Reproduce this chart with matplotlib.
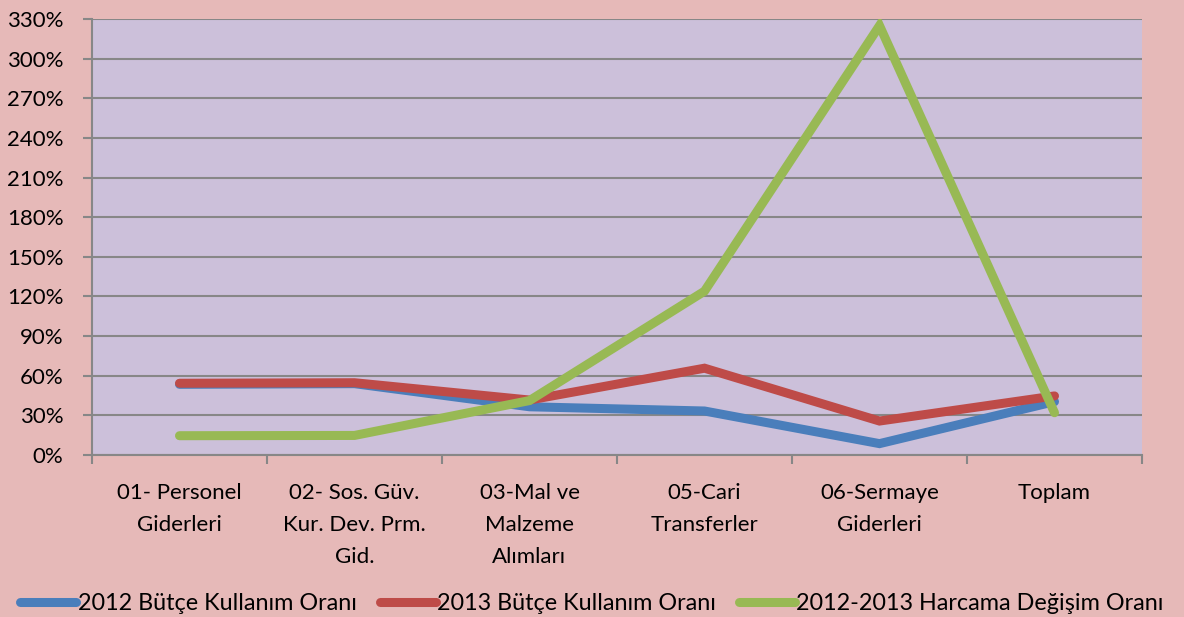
import matplotlib.pyplot as plt
import numpy as np

plt.rcParams['font.family'] = ['Lato', 'DejaVu Sans']

categories = ['01- Personel\nGiderleri', '02- Sos. Güv.\nKur. Dev. Prm.\nGid.',
              '03-Mal ve\nMalzeme\nAlımları', '05-Cari\nTransferler',
              '06-Sermaye\nGiderleri', 'Toplam']
oran_2012 = [53.5, 54.0, 36.5, 33.3, 8.6, 40.4]   # 2012 Bütçe Kullanım Oranı (%)
oran_2013 = [54.3, 54.7, 41.6, 65.7, 25.7, 44.7]  # 2013 Bütçe Kullanım Oranı (%)
degisim = [14.6, 14.8, 41.2, 124.0, 325.0, 32.0]  # 2012-2013 Harcama Değişim Oranı (%)
yticks = list(range(0, 331, 30))

bg = '#E6B9B8'
plot_bg = '#CCC0DA'
grey = '#878787'

fig = plt.figure(figsize=(11.84, 6.17), dpi=100, facecolor=bg)
ax = fig.add_axes([92/1184, 1-455/617, 1050/1184, 436/617])
ax.set_facecolor(plot_bg)

x = np.arange(len(categories)) + 0.5
ax.plot(x, oran_2012, color='#4A7EBB', lw=6.5, solid_capstyle='round', solid_joinstyle='miter',
        label='2012 Bütçe Kullanım Oranı', zorder=3)
ax.plot(x, oran_2013, color='#BE4B48', lw=6.5, solid_capstyle='round', solid_joinstyle='miter',
        label='2013 Bütçe Kullanım Oranı', zorder=4)
ax.plot(x, degisim, color='#98B954', lw=6.5, solid_capstyle='round', solid_joinstyle='miter',
        label='2012-2013 Harcama Değişim Oranı', zorder=5)

ax.set_xlim(0, len(categories))
ax.set_ylim(0, 330)
ax.set_yticks(yticks)
ax.set_yticklabels([f'{v}%' for v in yticks], fontsize=16)
ax.yaxis.grid(True, color=grey, lw=1.5)
ax.set_axisbelow(True)

ax.set_xticks(x)
ax.set_xticklabels(categories, fontsize=16, linespacing=1.75, va='top')
ax.set_xticks(np.arange(len(categories) + 1), minor=True)
ax.tick_params(axis='x', which='major', length=0, pad=20)
ax.tick_params(axis='x', which='minor', length=6.5, width=1.5, color=grey)
ax.tick_params(axis='y', length=6.5, width=1.5, color=grey, pad=14)

for s in ['top', 'right']:
    ax.spines[s].set_visible(False)
for s in ['left', 'bottom']:
    ax.spines[s].set_color(grey)
    ax.spines[s].set_linewidth(1.5)

fig.legend(loc='lower center', bbox_to_anchor=(0.5, -0.018), ncol=3, frameon=False,
           fontsize=16.8, handlelength=2.4, handletextpad=0.05, columnspacing=1.0,
           borderaxespad=0.2)

fig.savefig('out.png', dpi=100, facecolor=bg)
